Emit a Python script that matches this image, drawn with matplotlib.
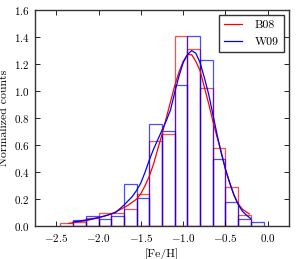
import matplotlib
matplotlib.use('Agg')
import matplotlib.pyplot as plt

# histogram bins ([Fe/H] left edges, width 0.15)
b08_left = [-2.45, -2.30, -2.15, -2.00, -1.85, -1.70, -1.55, -1.40, -1.25, -1.10,
            -0.95, -0.80, -0.65, -0.50, -0.35]
b08_counts = [0.022, 0.030, 0.057, 0.100, 0.100, 0.130, 0.235, 0.630, 0.680, 1.410,
              1.310, 1.020, 0.575, 0.287, 0.081]
w09_left = [-2.30, -2.15, -2.00, -1.85, -1.70, -1.55, -1.40, -1.25, -1.10, -0.95,
            -0.80, -0.65, -0.50, -0.35, -0.20]
w09_counts = [0.044, 0.074, 0.052, 0.078, 0.313, 0.207, 0.755, 0.706, 1.044, 1.410,
              1.230, 0.495, 0.178, 0.050, 0.027]
bin_width = 0.15

# fitted curves
b08_fit_x = [-2.35, -2.25, -2.15, -2.05, -1.95, -1.85, -1.75, -1.65, -1.55, -1.50,
             -1.45, -1.40, -1.35, -1.30, -1.25, -1.20, -1.15, -1.10, -1.05, -1.00,
             -0.95, -0.90, -0.85, -0.80, -0.75, -0.70, -0.65, -0.60, -0.55, -0.50,
             -0.45, -0.40, -0.35, -0.30, -0.22]
b08_fit_y = [0.020, 0.030, 0.040, 0.055, 0.070, 0.090, 0.120, 0.155, 0.200, 0.240,
             0.300, 0.370, 0.460, 0.570, 0.680, 0.800, 0.920, 1.040, 1.140, 1.220,
             1.270, 1.270, 1.220, 1.150, 1.030, 0.910, 0.780, 0.660, 0.550, 0.420,
             0.320, 0.230, 0.165, 0.125, 0.090]
w09_fit_x = [-2.30, -2.20, -2.10, -2.00, -1.90, -1.80, -1.70, -1.60, -1.55, -1.50,
             -1.45, -1.40, -1.35, -1.30, -1.25, -1.20, -1.15, -1.10, -1.05, -1.00,
             -0.95, -0.90, -0.85, -0.80, -0.75, -0.70, -0.65, -0.60, -0.55, -0.50,
             -0.45, -0.40, -0.35, -0.30, -0.25, -0.20]
w09_fit_y = [0.030, 0.040, 0.050, 0.064, 0.080, 0.100, 0.155, 0.220, 0.265, 0.320,
             0.400, 0.490, 0.570, 0.640, 0.710, 0.780, 0.860, 0.990, 1.110, 1.210,
             1.270, 1.300, 1.280, 1.210, 1.100, 0.980, 0.830, 0.680, 0.540, 0.420,
             0.320, 0.230, 0.160, 0.110, 0.080, 0.055]

x_ticks = [-2.5, -2.0, -1.5, -1.0, -0.5, 0.0]
y_ticks = [0.0, 0.2, 0.4, 0.6, 0.8, 1.0, 1.2, 1.4, 1.6]

plt.rcParams['font.family'] = 'serif'
plt.rcParams['font.serif'] = ['cmr10', 'DejaVu Serif']
plt.rcParams['mathtext.fontset'] = 'cm'
plt.rcParams['axes.formatter.use_mathtext'] = True

fig = plt.figure(figsize=(2.97, 2.59), dpi=100)
ax = fig.add_axes([0.118, 0.127, 0.855, 0.834])

ax.bar(b08_left, b08_counts, width=bin_width, align='edge', fill=False,
       edgecolor='red', linewidth=0.9, alpha=0.7)
ax.bar(w09_left, w09_counts, width=bin_width, align='edge', fill=False,
       edgecolor='blue', linewidth=0.9, alpha=0.7)

ax.plot(b08_fit_x, b08_fit_y, color='red', lw=0.9, label='B08')
ax.plot(w09_fit_x, w09_fit_y, color='blue', lw=0.9, label='W09')

ax.set_xlim(-2.75, 0.25)
ax.set_ylim(0, 1.6)
ax.set_xticks(x_ticks)
ax.set_yticks(y_ticks)
ax.tick_params(direction='in', top=True, right=True, length=3.5, width=0.6,
               labelsize=8, pad=4)
for s in ax.spines.values():
    s.set_linewidth(1.0)
    s.set_color('#333333')

ax.set_xlabel('[Fe/H]', fontsize=8.5, labelpad=3)
ax.set_ylabel('Normalized counts', fontsize=8.5, labelpad=3)

leg = ax.legend(loc='upper right', fancybox=False, framealpha=1, fontsize=8.5,
                handlelength=1.5, borderpad=0.45, labelspacing=0.55,
                handletextpad=1.1, borderaxespad=0.4)
leg.get_frame().set_edgecolor('#333333')
leg.get_frame().set_linewidth(1.0)

fig.savefig('out.png', dpi=100)
